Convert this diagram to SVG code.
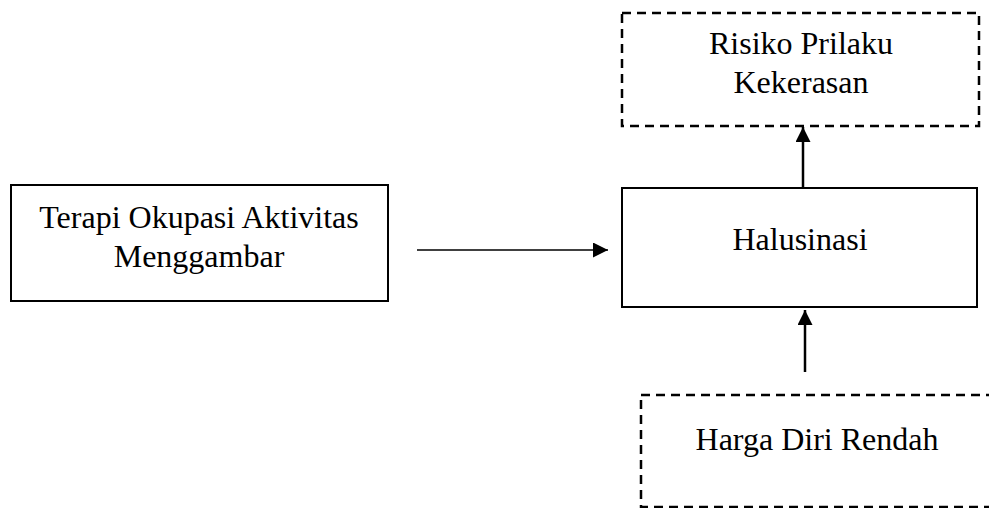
<svg xmlns="http://www.w3.org/2000/svg" width="989" height="508" viewBox="0 0 989 508">
<style>
.box{fill:#fff;stroke:#000;stroke-width:2}
.dash{fill:#fff;stroke:#000;stroke-width:2.5;stroke-dasharray:9 6}
.t{font-family:"Liberation Serif","Times New Roman",serif;font-size:32px;fill:#000;text-anchor:middle}
.c{stroke:#000;fill:none}
</style>
<defs>
<marker id="ah" viewBox="0 0 10 10" refX="10" refY="5" markerWidth="15" markerHeight="15" markerUnits="userSpaceOnUse" orient="auto">
<path d="M0,0 L10,5 L0,10 z" fill="#000"/>
</marker>
</defs>
<rect width="989" height="508" fill="#fff"/>
<g id="risiko">
<rect class="dash" x="622" y="13" width="357" height="113"/>
<text class="t" x="801" y="54">Risiko Prilaku</text>
<text class="t" x="801" y="93">Kekerasan</text>
</g>
<g id="terapi">
<rect class="box" x="11" y="185" width="377" height="116"/>
<text class="t" x="199" y="228">Terapi Okupasi Aktivitas</text>
<text class="t" x="199" y="267">Menggambar</text>
</g>
<g id="halusinasi">
<rect class="box" x="622" y="188" width="355" height="119"/>
<text class="t" x="800" y="250">Halusinasi</text>
</g>
<g id="harga">
<rect class="dash" x="641" y="395" width="360" height="112"/>
<text class="t" x="817" y="450">Harga Diri Rendah</text>
</g>
<g id="connectors">
<line class="c" x1="417" y1="250" x2="608" y2="250" stroke-width="1.5" marker-end="url(#ah)"/>
<line class="c" x1="803" y1="188" x2="803" y2="127" stroke-width="2.5" marker-end="url(#ah)"/>
<line class="c" x1="805" y1="372" x2="805" y2="310" stroke-width="2.5" marker-end="url(#ah)"/>
</g>
</svg>
